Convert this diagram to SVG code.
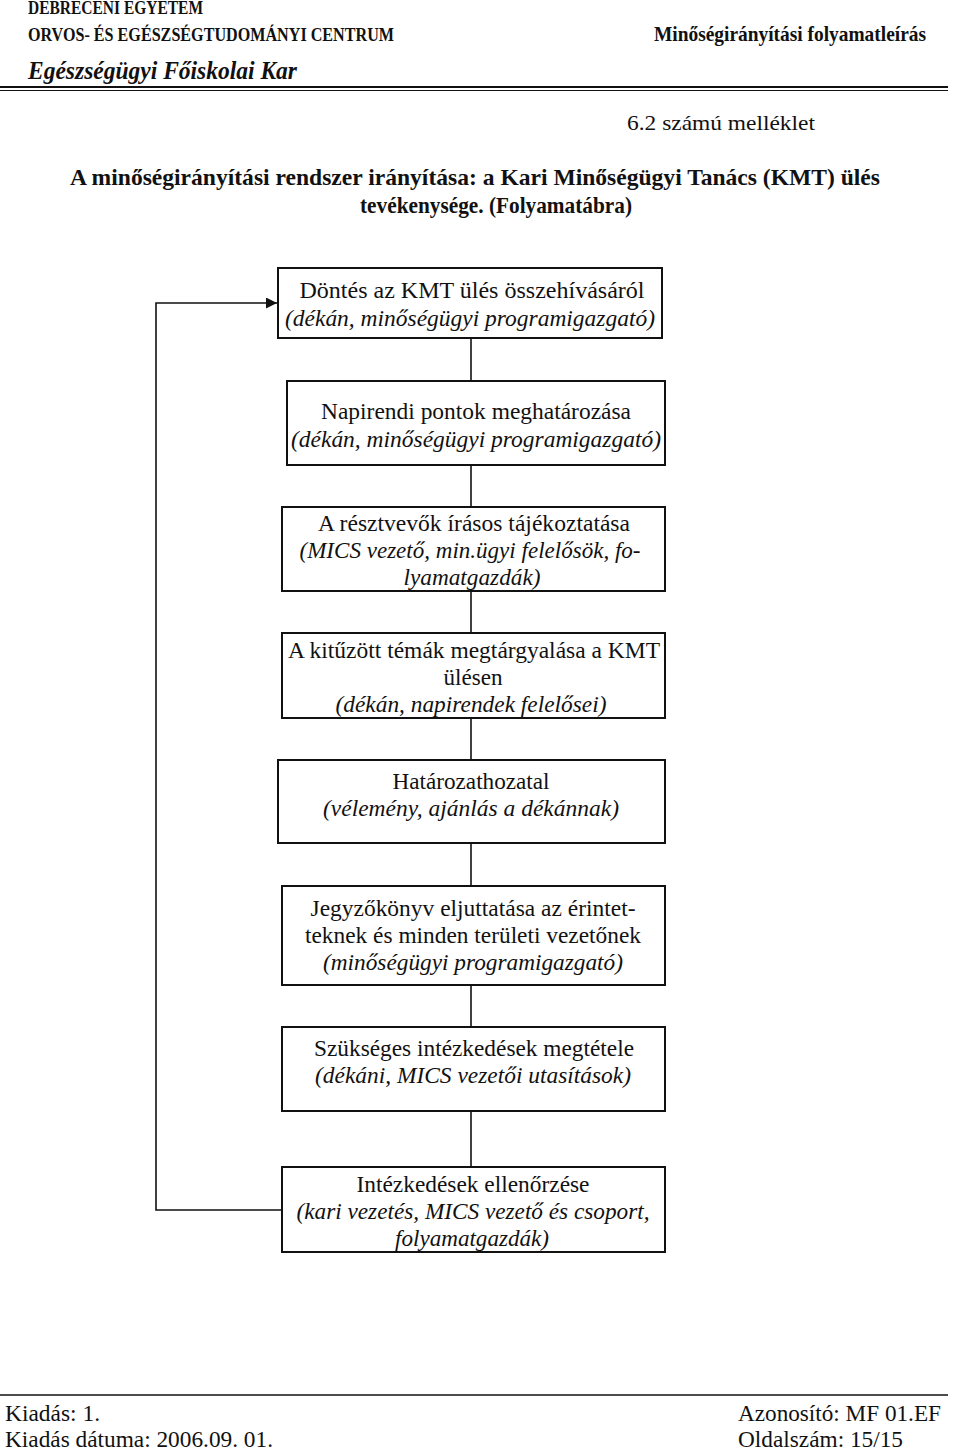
<svg xmlns="http://www.w3.org/2000/svg" width="960" height="1450" viewBox="0 0 960 1450">
<style>
.hb{font-family:"Liberation Serif","Times New Roman",serif;font-weight:bold;fill:#111}
.r{font-family:"Liberation Serif","Times New Roman",serif;fill:#111}
.t{font-family:"Liberation Serif","Times New Roman",serif;font-size:23px;fill:#111;text-anchor:middle}
.i{font-style:italic}
.box{fill:#fff;stroke:#111;stroke-width:2}
.con{fill:none;stroke:#111;stroke-width:1.6}
</style>
<defs>
<marker id="ah" viewBox="0 0 10 10" refX="10" refY="5" markerWidth="11" markerHeight="11" markerUnits="userSpaceOnUse" orient="auto">
<path d="M0,0 L10,5 L0,10 z" fill="#111"/>
</marker>
</defs>
<rect width="960" height="1450" fill="#fff"/>
<g id="header">
<text class="hb" x="28" y="14" font-size="18" textLength="175" lengthAdjust="spacingAndGlyphs">DEBRECENI EGYETEM</text>
<text class="hb" x="28" y="41" font-size="18" textLength="366" lengthAdjust="spacingAndGlyphs">ORVOS-  ÉS EGÉSZSÉGTUDOMÁNYI  CENTRUM</text>
<text class="hb" x="654" y="41" font-size="21" textLength="272" lengthAdjust="spacingAndGlyphs">Minőségirányítási folyamatleírás</text>
<text class="hb i" x="28" y="79" font-size="25" textLength="269" lengthAdjust="spacingAndGlyphs">Egészségügyi Főiskolai Kar</text>
<line x1="0" y1="87" x2="948" y2="87" stroke="#111" stroke-width="2.2"/>
<line x1="0" y1="90.5" x2="948" y2="90.5" stroke="#111" stroke-width="1"/>
<text class="r" x="627" y="130" font-size="22" textLength="188" lengthAdjust="spacingAndGlyphs">6.2 számú melléklet</text>
<text class="hb" x="70" y="185" font-size="23" textLength="810" lengthAdjust="spacingAndGlyphs">A minőségirányítási rendszer irányítása: a Kari Minőségügyi Tanács (KMT) ülés</text>
<text class="hb" x="360" y="213" font-size="23" textLength="272" lengthAdjust="spacingAndGlyphs">tevékenysége. (Folyamatábra)</text>
</g>
<g id="connectors">
<line class="con" x1="471" y1="338" x2="471" y2="381"/>
<line class="con" x1="471" y1="465" x2="471" y2="507"/>
<line class="con" x1="471" y1="591" x2="471" y2="633"/>
<line class="con" x1="471" y1="718" x2="471" y2="760"/>
<line class="con" x1="471" y1="843" x2="471" y2="886"/>
<line class="con" x1="471" y1="985" x2="471" y2="1027"/>
<line class="con" x1="471" y1="1111" x2="471" y2="1167"/>
<polyline class="con" points="282,1210 156,1210 156,303 277,303" marker-end="url(#ah)"/>
</g>
<g id="n1">
<rect class="box" x="278" y="268" width="384" height="70"/>
<text class="t" x="472" y="298" textLength="345" lengthAdjust="spacingAndGlyphs">Döntés az KMT ülés összehívásáról</text>
<text class="t i" x="470" y="326" textLength="370" lengthAdjust="spacingAndGlyphs">(dékán, minőségügyi programigazgató)</text>
</g>
<g id="n2">
<rect class="box" x="287" y="381" width="378" height="84"/>
<text class="t" x="476" y="419" textLength="310" lengthAdjust="spacingAndGlyphs">Napirendi pontok meghatározása</text>
<text class="t i" x="476" y="447" textLength="370" lengthAdjust="spacingAndGlyphs">(dékán, minőségügyi programigazgató)</text>
</g>
<g id="n3">
<rect class="box" x="282" y="507" width="383" height="84"/>
<text class="t" x="474" y="531" textLength="312" lengthAdjust="spacingAndGlyphs">A résztvevők írásos tájékoztatása</text>
<text class="t i" x="470" y="558" textLength="341" lengthAdjust="spacingAndGlyphs">(MICS vezető, min.ügyi felelősök, fo-</text>
<text class="t i" x="472" y="585" textLength="137" lengthAdjust="spacingAndGlyphs">lyamatgazdák)</text>
</g>
<g id="n4">
<rect class="box" x="282" y="633" width="383" height="85"/>
<text class="t" x="474" y="658" textLength="372" lengthAdjust="spacingAndGlyphs">A kitűzött témák megtárgyalása a KMT</text>
<text class="t" x="473" y="685" textLength="59" lengthAdjust="spacingAndGlyphs">ülésen</text>
<text class="t i" x="471" y="712" textLength="271" lengthAdjust="spacingAndGlyphs">(dékán, napirendek felelősei)</text>
</g>
<g id="n5">
<rect class="box" x="278" y="760" width="387" height="83"/>
<text class="t" x="471" y="789" textLength="157" lengthAdjust="spacingAndGlyphs">Határozathozatal</text>
<text class="t i" x="471" y="816" textLength="296" lengthAdjust="spacingAndGlyphs">(vélemény, ajánlás a dékánnak)</text>
</g>
<g id="n6">
<rect class="box" x="282" y="886" width="383" height="99"/>
<text class="t" x="473" y="916" textLength="325" lengthAdjust="spacingAndGlyphs">Jegyzőkönyv eljuttatása az érintet-</text>
<text class="t" x="473" y="943" textLength="336" lengthAdjust="spacingAndGlyphs">teknek és minden területi vezetőnek</text>
<text class="t i" x="473" y="970" textLength="300" lengthAdjust="spacingAndGlyphs">(minőségügyi programigazgató)</text>
</g>
<g id="n7">
<rect class="box" x="282" y="1027" width="383" height="84"/>
<text class="t" x="474" y="1056" textLength="320" lengthAdjust="spacingAndGlyphs">Szükséges intézkedések megtétele</text>
<text class="t i" x="473" y="1083" textLength="316" lengthAdjust="spacingAndGlyphs">(dékáni, MICS vezetői utasítások)</text>
</g>
<g id="n8">
<rect class="box" x="282" y="1167" width="383" height="85"/>
<text class="t" x="473" y="1192" textLength="233" lengthAdjust="spacingAndGlyphs">Intézkedések ellenőrzése</text>
<text class="t i" x="473" y="1219" textLength="353" lengthAdjust="spacingAndGlyphs">(kari vezetés, MICS vezető és csoport,</text>
<text class="t i" x="472" y="1246" textLength="154" lengthAdjust="spacingAndGlyphs">folyamatgazdák)</text>
</g>
<g id="footer">
<line x1="0" y1="1395" x2="948" y2="1395" stroke="#111" stroke-width="1.5"/>
<text class="r" x="5" y="1421" font-size="23" textLength="95" lengthAdjust="spacingAndGlyphs">Kiadás: 1.</text>
<text class="r" x="5" y="1447" font-size="23" textLength="268" lengthAdjust="spacingAndGlyphs">Kiadás dátuma: 2006.09. 01.</text>
<text class="r" x="738" y="1421" font-size="23" textLength="203" lengthAdjust="spacingAndGlyphs">Azonosító: MF 01.EF</text>
<text class="r" x="738" y="1447" font-size="23" textLength="165" lengthAdjust="spacingAndGlyphs">Oldalszám: 15/15</text>
</g>
</svg>
